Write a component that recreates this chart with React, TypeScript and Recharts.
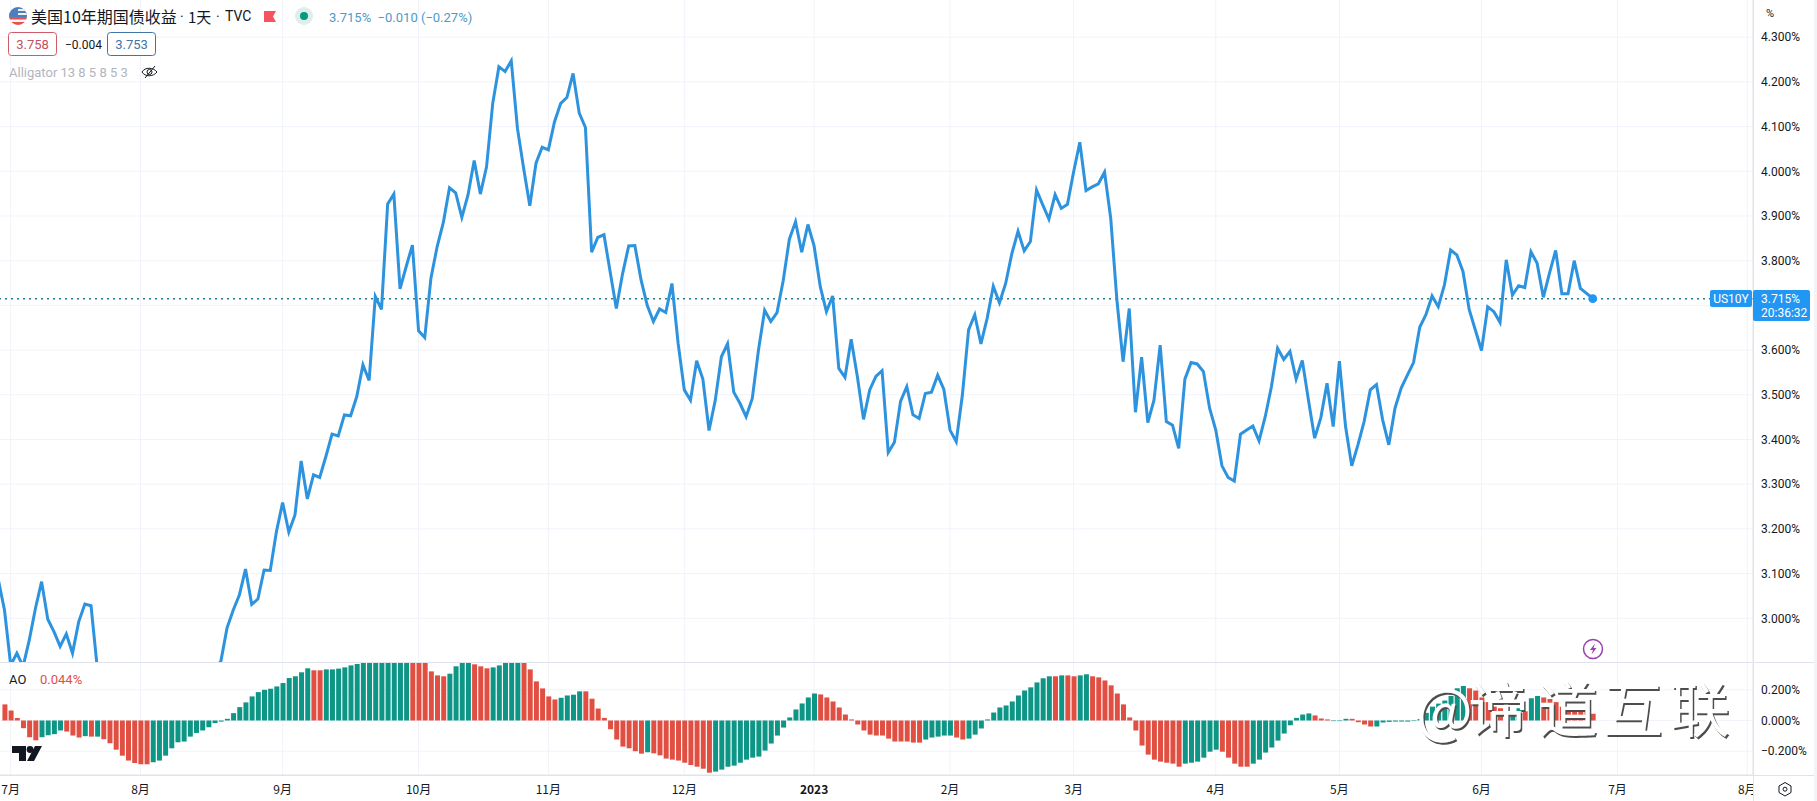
import React from "react";
import { ComposedChart, Line, Bar, Cell, XAxis, YAxis, CartesianGrid, ReferenceLine, ReferenceDot } from "recharts";

const FONT = "Roboto, 'Noto Sans CJK SC', sans-serif";
const CJK = "'Noto Sans CJK SC', 'Noto Sans', sans-serif";
const INK = "#131722";
const GRID = "#f0f3fa";
const BORDER = "#e0e3eb";
const BLUE = "#2e93de";
const GREEN = "#0d9585";
const RED = "#e14f42";

const monthTicks = [0, 21, 44, 66, 87, 109, 130, 152, 172, 195, 215, 238, 260, 281];
const monthLabels = ["7月", "8月", "9月", "10月", "11月", "12月", "2023", "2月", "3月", "4月", "5月", "6月", "7月", "8月"];
const priceGrid = [3.0, 3.1, 3.2, 3.3, 3.4, 3.5, 3.6, 3.7, 3.8, 3.9, 4.0, 4.1, 4.2, 4.3];
const priceTicks = [3.0, 3.1, 3.2, 3.3, 3.4, 3.5, 3.6, 3.8, 3.9, 4.0, 4.1, 4.2, 4.3];
const aoTicks = [-0.2, 0, 0.2];
const lastPrice = 3.715;
const lastIndex = 256;

// daily yield, first value is bar index -2
const yields = [
  3.086, 3.018, 2.895, 2.922, 2.892, 2.951, 3.022, 3.082, 2.998, 2.970, 2.937, 2.965, 2.922, 2.992, 3.032, 3.028,
  2.89, 2.80, 2.76, 2.75, 2.68, 2.67, 2.65, 2.66, 2.60, 2.74, 2.71, 2.78, 2.76, 2.79, 2.85, 2.84, 2.88, 2.83, 2.88, 2.89,
  2.903, 2.978, 3.018, 3.052, 3.110, 3.031, 3.043, 3.108, 3.107, 3.194, 3.259, 3.193, 3.231, 3.352, 3.267, 3.321,
  3.315, 3.362, 3.412, 3.408, 3.455, 3.453, 3.496, 3.567, 3.532,
  3.720, 3.691, 3.927, 3.949, 3.737, 3.787, 3.835, 3.643, 3.628, 3.761, 3.831, 3.885, 3.963, 3.952, 3.897, 3.947,
  4.024, 3.949, 4.010, 4.152, 4.234, 4.223, 4.247, 4.096, 4.007, 3.923, 4.018, 4.054, 4.048, 4.111, 4.152, 4.165,
  4.219, 4.130, 4.098, 3.819, 3.852,
  3.858, 3.775, 3.693, 3.770, 3.833, 3.834, 3.757, 3.700, 3.664, 3.692, 3.684, 3.749, 3.615, 3.511, 3.488, 3.576,
  3.535, 3.420, 3.487, 3.585, 3.614, 3.506, 3.481, 3.451, 3.492, 3.600, 3.689, 3.664, 3.684, 3.755, 3.848, 3.887,
  3.819, 3.881, 3.833, 3.742, 3.686, 3.721, 3.559, 3.539, 3.624, 3.541, 3.445, 3.511, 3.541, 3.554, 3.371, 3.394,
  3.486, 3.518, 3.455, 3.447, 3.503, 3.506, 3.544, 3.512, 3.421, 3.395, 3.500, 3.645, 3.679, 3.614, 3.671, 3.743,
  3.706, 3.749, 3.816, 3.866, 3.822, 3.843,
  3.958, 3.925, 3.893, 3.948, 3.917, 3.926, 3.999, 4.065, 3.957, 3.965, 3.972, 3.998, 3.895,
  3.712, 3.574, 3.693, 3.461, 3.584, 3.438, 3.488, 3.611, 3.440, 3.432, 3.380, 3.535, 3.572, 3.569, 3.552, 3.470,
  3.421, 3.341, 3.315, 3.307, 3.412, 3.421, 3.430, 3.397, 3.451, 3.518, 3.604, 3.579, 3.597, 3.535, 3.577, 3.488,
  3.403, 3.449, 3.526, 3.429, 3.575, 3.429, 3.341, 3.388, 3.440, 3.511, 3.523, 3.444, 3.388, 3.470, 3.515, 3.544,
  3.572, 3.651, 3.679, 3.721, 3.697, 3.746, 3.824, 3.813, 3.776, 3.691, 3.645, 3.599, 3.697, 3.686, 3.662, 3.802,
  3.723, 3.744, 3.740, 3.820, 3.794, 3.718, 3.772, 3.823, 3.726, 3.726, 3.800, 3.738, 3.727, 3.716,
];

// Awesome Oscillator, first value is bar index -1
const aoValues = [
  0.105, 0.065, 0.017, -0.050, -0.109, -0.129, -0.109, -0.096, -0.089, -0.065, -0.072, -0.098, -0.111, -0.102, -0.105, -0.105,
  -0.122, -0.148, -0.190, -0.229, -0.261, -0.277, -0.285, -0.285, -0.272, -0.261, -0.229, -0.181, -0.142, -0.137, -0.105, -0.081,
  -0.065, -0.044, -0.017, -0.007, 0.011, 0.048, 0.087, 0.118, 0.157, 0.185, 0.200, 0.207, 0.222, 0.244, 0.277, 0.288,
  0.314, 0.340, 0.327, 0.327, 0.333, 0.333, 0.338, 0.346, 0.359, 0.368, 0.385, 0.40, 0.41, 0.42, 0.43, 0.44,
  0.445, 0.45, 0.44, 0.42, 0.39, 0.320, 0.294, 0.288, 0.305, 0.353, 0.385, 0.39, 0.366, 0.353, 0.340, 0.346,
  0.359, 0.38, 0.39, 0.395, 0.39, 0.333, 0.255, 0.209, 0.157, 0.137, 0.148, 0.163, 0.168, 0.190, 0.190, 0.142,
  0.078, 0.017, -0.057, -0.124, -0.170, -0.181, -0.200, -0.216, -0.207, -0.214, -0.227, -0.248, -0.255, -0.261, -0.275, -0.290,
  -0.301, -0.314, -0.340, -0.333, -0.320, -0.301, -0.294, -0.275, -0.255, -0.242, -0.235, -0.196, -0.150, -0.098, -0.046, 0.020,
  0.072, 0.111, 0.150, 0.176, 0.170, 0.150, 0.124, 0.085, 0.039, 0.007, -0.026, -0.065, -0.092, -0.098, -0.098, -0.118,
  -0.137, -0.137, -0.137, -0.144, -0.144, -0.124, -0.111, -0.105, -0.098, -0.098, -0.111, -0.124, -0.118, -0.092, -0.052, 0.007,
  0.052, 0.085, 0.098, 0.124, 0.163, 0.196, 0.216, 0.248, 0.275, 0.288, 0.288, 0.294, 0.294, 0.288, 0.294, 0.301,
  0.288, 0.281, 0.261, 0.229, 0.176, 0.105, 0.020, -0.065, -0.163, -0.222, -0.255, -0.268, -0.275, -0.281, -0.301, -0.281,
  -0.275, -0.268, -0.242, -0.203, -0.190, -0.203, -0.242, -0.281, -0.301, -0.301, -0.281, -0.255, -0.209, -0.176, -0.131, -0.085,
  -0.031, 0.017, 0.039, 0.046, 0.033, 0.013, 0.007, -0.004, -0.004, 0.011, 0.011, -0.011, -0.026, -0.039, -0.039, -0.013,
  -0.009, -0.007, -0.007, -0.007, -0.004, 0.01, 0.05, 0.09, 0.11, 0.13, 0.16, 0.21, 0.225, 0.21, 0.195, 0.15,
  0.12, 0.09, 0.08, 0.07, 0.06, 0.08, 0.06, 0.145, 0.16, 0.15, 0.14, 0.12, 0.09, 0.08, 0.08, 0.07, 0.06, 0.044,
];

// alternating run lengths of bar colours, starting with red
const aoColorRuns = [6, 4, 3, 1, 1, 1, 8, 26, 2, 14, 6, 4, 3, 5, 6, 4, 10, 1, 10, 17, 17, 5, 2, 14, 1, 1, 2, 2, 15, 6, 5, 10, 3, 3, 4, 15, 7, 2, 1, 2, 9];

const aoColors: string[] = aoColorRuns.flatMap((n, r) => Array(n).fill(r % 2 === 0 ? RED : GREEN));
const priceRows = yields.map((v, k) => ({ idx: k - 2, v }));
const aoRows = aoValues.map((v, k) => ({ idx: k - 1, v }));

const X_DOMAIN: [number, number] = [-1.731, 281.93];
const fmtPct = (v: number) => `${v < 0 ? "\u2212" : ""}${Math.abs(v).toFixed(3)}%`;

const MonthTick = (p: any) => {
  const label = monthLabels[monthTicks.indexOf(p.payload.value)];
  return (
    <text x={p.x} y={p.y + 5} textAnchor="middle" dominantBaseline="central" fontFamily={CJK} fontSize={12} fontWeight={label === "2023" ? 700 : 400} fill={INK}>
      {label}
    </text>
  );
};

const tickStyle = { fill: INK, fontSize: 12, fontFamily: FONT };

export default function App() {
  return (
    <div style={{ position: "absolute", left: 0, top: 0, width: 1817, height: 801, background: "#fff", overflow: "hidden" }}>
      <div style={{ position: "absolute", left: 0, top: 0 }}>
        <ComposedChart width={1817} height={662} data={priceRows} margin={{ top: 0, right: 0, bottom: 0, left: 0 }}>
          <CartesianGrid stroke={GRID} strokeWidth={1} verticalValues={monthTicks} horizontalValues={priceGrid} />
          <XAxis dataKey="idx" type="number" domain={X_DOMAIN} allowDataOverflow hide ticks={monthTicks} />
          <YAxis
            orientation="right"
            width={64}
            type="number"
            domain={[2.9022, 4.3832]}
            allowDataOverflow
            ticks={priceTicks}
            interval={0}
            tickFormatter={fmtPct}
            tickLine={false}
            tickSize={0}
            tickMargin={8}
            tick={tickStyle}
            axisLine={{ stroke: BORDER }}
          />
          <ReferenceLine y={lastPrice} stroke="#23808f" strokeWidth={1.5} strokeDasharray="2 4" />
          <Line dataKey="v" type="linear" stroke={BLUE} strokeWidth={3} dot={false} isAnimationActive={false} strokeLinejoin="miter" />
          <ReferenceDot x={lastIndex} y={lastPrice} r={4.4} fill="#2196f3" stroke="none" />
        </ComposedChart>
      </div>
      <div style={{ position: "absolute", left: 0, top: 663 }}>
        <ComposedChart width={1817} height={138} data={aoRows} margin={{ top: 0, right: 0, bottom: 0, left: 0 }}>
          <CartesianGrid stroke={GRID} strokeWidth={1} verticalValues={monthTicks} horizontalValues={aoTicks} />
          <XAxis
            dataKey="idx"
            type="number"
            domain={X_DOMAIN}
            allowDataOverflow
            ticks={monthTicks}
            interval={0}
            height={26}
            tickLine={false}
            tick={MonthTick}
            axisLine={{ stroke: BORDER, strokeWidth: 1 }}
          />
          <YAxis
            orientation="right"
            width={64}
            type="number"
            domain={[-0.355, 0.3746]}
            allowDataOverflow
            ticks={aoTicks}
            interval={0}
            tickFormatter={fmtPct}
            tickLine={false}
            tickSize={0}
            tickMargin={8}
            tick={tickStyle}
            axisLine={{ stroke: BORDER }}
          />
          <Bar dataKey="v" barSize={5} isAnimationActive={false}>
            {aoRows.map((r, k) => (
              <Cell key={r.idx} fill={aoColors[k]} />
            ))}
          </Bar>
        </ComposedChart>
      </div>

      <svg width={1817} height={801} style={{ position: "absolute", left: 0, top: 0, pointerEvents: "none" }}>
        <defs>
          <clipPath id="flagClip"><circle cx={18} cy={16} r={9} /></clipPath>
        </defs>

        {/* panes' outer lines */}
        <line x1={0} x2={1817} y1={662.5} y2={662.5} stroke={BORDER} />
        <line x1={0} x2={1817} y1={775.5} y2={775.5} stroke={BORDER} />
        <rect x={1753.5} y={776} width={64} height={25} fill="#fff" />
        <line x1={1753.5} x2={1753.5} y1={0} y2={801} stroke={BORDER} />
        <rect x={1814} y={0} width={3} height={801} fill="#f3f4f6" />

        {/* legend */}
        <g clipPath="url(#flagClip)">
          <rect x={9} y={7} width={18} height={18} fill="#f4f4f4" />
          <rect x={9} y={7} width={18} height={10} fill="#4a7fc0" />
          <rect x={18} y={9} width={9} height={2} fill="#f0f0f0" />
          <rect x={18} y={13} width={9} height={2} fill="#f0f0f0" />
          <rect x={9} y={17} width={18} height={2.5} fill="#e2544f" />
          <rect x={9} y={22} width={18} height={3} fill="#e2544f" />
        </g>
        <text x={31} y={23} fontFamily={CJK} fontSize={16} fill={INK}>美国10年期国债收益</text>
        <text x={180} y={22} fontFamily={FONT} fontSize={14} fill={INK}>·</text>
        <text x={188} y={23} fontFamily={CJK} fontSize={15} fill={INK}>1天</text>
        <text x={216} y={22} fontFamily={FONT} fontSize={14} fill={INK}>·</text>
        <text x={225} y={21} fontFamily={FONT} fontSize={14} fill={INK}>TVC</text>
        <path d="M264 11h12l-3 5.500 3 5.500h-12z" fill="#f7525f" />
        <circle cx={304} cy={16} r={9} fill="#dcefec" />
        <circle cx={304} cy={16} r={4} fill="#089981" />
        <text x={329} y={22} fontFamily={FONT} fontSize={13} fill="#4b9bc9" xmlSpace="preserve">3.715%  −0.010 (−0.27%)</text>

        <rect x={8.5} y={32.5} width={48} height={23} rx={3} fill="#fff" stroke="#cd5c67" />
        <text x={32.5} y={49} textAnchor="middle" fontFamily={FONT} fontSize={13} fill="#c4505c">3.758</text>
        <text x={65} y={49} fontFamily={FONT} fontSize={12} fill={INK}>−0.004</text>
        <rect x={107.5} y={32.5} width={48} height={23} rx={3} fill="#fff" stroke="#3f74a6" />
        <text x={131.5} y={49} textAnchor="middle" fontFamily={FONT} fontSize={13} fill="#3f74a6">3.753</text>

        <text x={9} y={77} fontFamily={FONT} fontSize={13} fill="#b2b5be">Alligator 13 8 5 8 5 3</text>
        <g fill="none" stroke={INK} strokeWidth={1}>
          <path d="M142 72c3-5 11-5 15 0c-4 5-12 5-15 0z" />
          <circle cx={149.5} cy={72} r={2.5} />
          <path d="M145 78l10-12" />
        </g>

        <text x={9} y={684} fontFamily={FONT} fontSize={13} fill={INK}>AO</text>
        <text x={40} y={684} fontFamily={FONT} fontSize={13} fill={RED}>0.044%</text>

        {/* TradingView mark */}
        <path d="M12 746h14v15h-7v-8h-7z" fill={INK} />
        <circle cx={30} cy={749.5} r={3.4} fill={INK} />
        <path d="M35 746h7l-8 15h-7z" fill={INK} />

        {/* price scale labels */}
        <text x={1766} y={17} fontFamily={FONT} fontSize={11} fill={INK}>%</text>
        <rect x={1710} y={290} width={42} height={17} rx={2} fill="#2196f3" />
        <text x={1731} y={302.5} textAnchor="middle" fontFamily={FONT} fontSize={12} fill="#fff">US10Y</text>
        <rect x={1753} y={290} width={57} height={31} rx={2} fill="#2196f3" />
        <text x={1761} y={302.5} fontFamily={FONT} fontSize={12} fill="#fff">3.715%</text>
        <text x={1761} y={317} fontFamily={FONT} fontSize={12} fill="#fff">20:36:32</text>

        {/* settings hexagon */}
        <path d="M1785 782.500l6 3.500v6.500l-6 3.500-6-3.500v-6.500z" fill="none" stroke={INK} strokeWidth={1} />
        <circle cx={1785} cy={789.2} r={2} fill="none" stroke={INK} strokeWidth={1} />

        {/* lightning badge */}
        <circle cx={1593} cy={649} r={9.5} fill="#fff" stroke="#9c3fb0" strokeWidth={1.5} />
        <path d="M1595 643.500l-5 6.500h3l-1.500 4.500 5-6.500h-3z" fill="#9c3fb0" />

        {/* watermark */}
        {[{ dx: 1.5, dy: 2, fill: "#4d4d4d" }, { dx: 0, dy: 0, fill: "#ffffff" }].map((w, k) => (
          <text key={k} transform={`translate(${w.dx},${w.dy})`} x="1416 1468 1538 1603 1670" y={732} fontFamily={CJK} fontSize={60} fill={w.fill}>@谛道互联</text>
        ))}
      </svg>
    </div>
  );
}
